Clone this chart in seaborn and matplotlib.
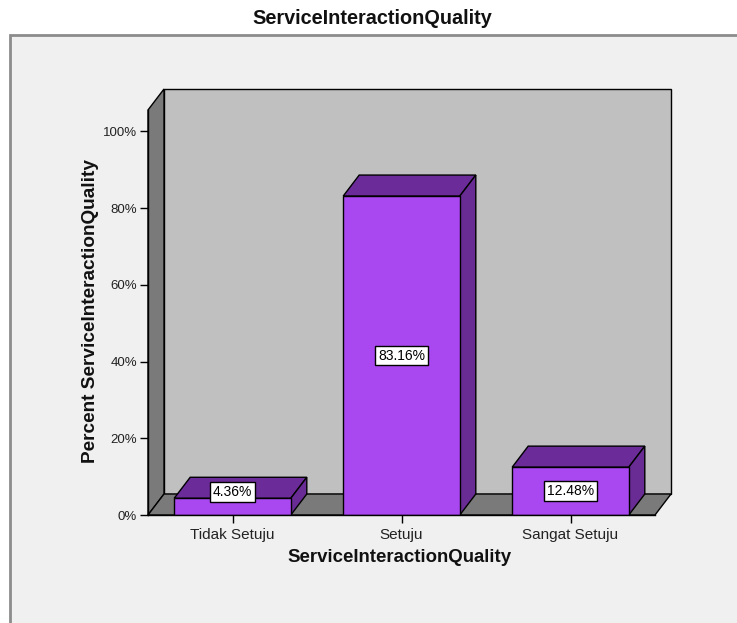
import numpy as np
import pandas as pd
import seaborn as sns
import matplotlib
matplotlib.use("Agg")
import matplotlib.pyplot as plt
from matplotlib.patches import Polygon, Rectangle

# ---- data -------------------------------------------------------------
categories = ["Tidak Setuju", "Setuju", "Sangat Setuju"]
percents = [4.36, 83.16, 12.48]
y_ticks = [0, 20, 40, 60, 80, 100]
y_tick_labels = ["0%", "20%", "40%", "60%", "80%", "100%"]
variable = "ServiceInteractionQuality"

# ---- style ------------------------------------------------------------
FRONT = "#a947f0"
TOP = "#6b2b98"
SIDE = "#692c95"
BACK_WALL = "#c0c0c0"
DARK_WALL = "#7a7a7a"
PANEL = "#f0f0f0"

sns.set_theme(style="white")
plt.rcParams["font.family"] = ["Liberation Sans", "DejaVu Sans"]

W, H, DPI = 737, 623, 100
fig = plt.figure(figsize=(W / DPI, H / DPI), dpi=DPI, facecolor="white")

# chart panel behind everything
fig.patches.append(Rectangle((10 / W, -0.1), 1.2, 1 - 35 / H + 0.1,
                             transform=fig.transFigure, facecolor=PANEL,
                             edgecolor="#8c8c8c", lw=2, zorder=-5))

ax = fig.add_axes([148 / W, 1 - 515 / H, (655 - 148) / W, (515 - 110) / H])
ax.set_zorder(2)
ax.set_facecolor("none")

df = pd.DataFrame({"category": categories, "percent": percents})
sns.barplot(data=df, x="category", y="percent", color=FRONT, saturation=1,
            width=0.69, edgecolor="black", linewidth=1, ax=ax, zorder=4)

YMAX = 105.6
ax.set_xlim(-0.5, 2.5)
ax.set_ylim(0, YMAX)

# depth of the 3-D extrusion, in pixels, converted to data units
DX_PX, DY_PX = 16, 21
dx = DX_PX / (ax.bbox.width / 3.0)
dy = DY_PX / (ax.bbox.height / YMAX)

def face(points, color, z):
    ax.add_patch(Polygon(points, closed=True, facecolor=color,
                         edgecolor="black", lw=1, clip_on=False, zorder=z,
                         joinstyle="miter"))

x0, x1 = -0.5, 2.5
# back wall, left wall and floor
face([(x0 + dx, dy), (x1 + dx, dy), (x1 + dx, YMAX + dy), (x0 + dx, YMAX + dy)], BACK_WALL, 1)
face([(x0, 0), (x0 + dx, dy), (x0 + dx, YMAX + dy), (x0, YMAX)], DARK_WALL, 2)
face([(x0, 0), (x1, 0), (x1 + dx, dy), (x0 + dx, dy)], DARK_WALL, 2)

# top and side faces of each bar
for bar in list(ax.patches)[:len(categories)]:
    bx, bw, bh = bar.get_x(), bar.get_width(), bar.get_height()
    face([(bx, bh), (bx + bw, bh), (bx + bw + dx, bh + dy), (bx + dx, bh + dy)], TOP, 3)
    face([(bx + bw, 0), (bx + bw + dx, dy), (bx + bw + dx, bh + dy), (bx + bw, bh)], SIDE, 3)

# value labels, kept clear of the floor for short bars
for i, v in enumerate(percents):
    ax.text(i, max(v / 2, 6.0), f"{v:.2f}%", ha="center", va="center",
            fontsize=10, color="black", zorder=6,
            bbox=dict(boxstyle="square,pad=0.2", facecolor="white",
                      edgecolor="black", lw=1))

# axes
for s in ("top", "right"):
    ax.spines[s].set_visible(False)
for s in ("left", "bottom"):
    ax.spines[s].set_color("black")
    ax.spines[s].set_linewidth(1)
    ax.spines[s].set_zorder(5)

ax.set_yticks(y_ticks)
ax.set_yticklabels(y_tick_labels)
ax.tick_params(axis="y", length=6, width=1, color="black", pad=2,
               labelsize=9.5, labelcolor="#222222", left=True)
ax.tick_params(axis="x", length=6, width=1, color="black", pad=3,
               labelsize=11, labelcolor="#222222", bottom=True)

ax.set_xlabel(variable, fontsize=13.4, fontweight="bold", color="#111111")
ax.set_ylabel("Percent " + variable, fontsize=13.7, fontweight="bold", color="#111111")
ax.xaxis.set_label_coords(0.5 + (400 - 401.5) / 507, (515 - 558) / 405)
ax.xaxis.label.set_va("center")
ax.yaxis.set_label_coords((91 - 148) / 507, (515 - 311) / 405)
ax.yaxis.label.set_va("center")

fig.text(372 / W, 1 - 18 / H, variable, ha="center", va="center",
         fontsize=14.3, fontweight="bold", color="#111111")

fig.savefig("out.png", dpi=DPI, facecolor="white")
